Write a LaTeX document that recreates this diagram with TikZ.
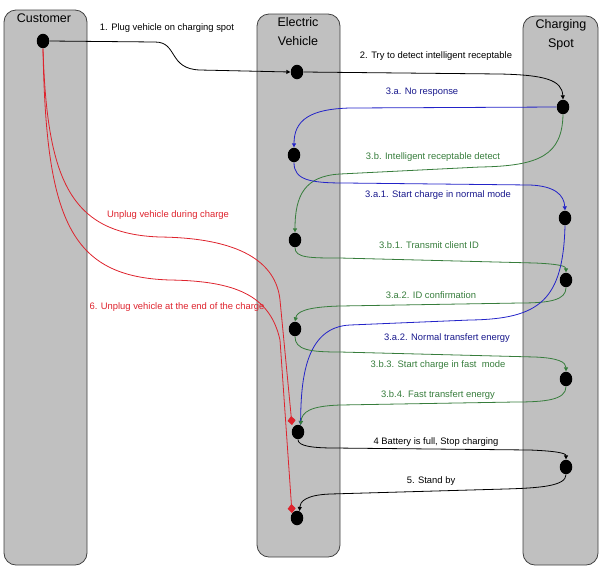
\documentclass[tikz,border=0pt]{standalone}
\usepackage{fontspec}
\setmainfont{Liberation Sans}
\usepackage{xcolor}
\usetikzlibrary{shapes.geometric,arrows.meta}

\definecolor{lanegray}{RGB}{192,192,192}
\definecolor{lineblue}{RGB}{35,35,200}
\definecolor{linegreen}{RGB}{55,125,60}
\definecolor{linered}{RGB}{222,35,45}

\begin{document}
\begin{tikzpicture}[x=1pt,y=-1pt,line width=0.8pt,
    lane/.style={draw=black!75,fill=lanegray,rounded corners=12pt},
    plugdot/.style={ellipse,fill=black,minimum width=12.5pt,minimum height=14.5pt,inner sep=0pt}]
\tikzset{lanetitle/.style={align=center,anchor=base,inner sep=0pt,font=\fontsize{12.5}{19}\selectfont},
         msg/.style={anchor=base,inner sep=0pt,font=\fontsize{9.4}{11}\selectfont},
         msgline/.style={-{Triangle[length=4pt,width=4pt]}},
         unplug/.style={draw=linered,-{Diamond[length=9pt,width=8pt]}}}
    \useasboundingbox (0,0) rectangle (601,566);
    \draw[lane] (4,10) rectangle (87,565);
    \draw[lane] (257,14) rectangle (340,557);
    \draw[lane] (523,16) rectangle (598,565);
    \node[lanetitle] (customer) at (44,22) {Customer};
    \node[lanetitle] (vehicle) at (298,45) {Electric\\Vehicle};
    \node[lanetitle] (spot) at (561,47) {Charging\\Spot};

    \node[plugdot] (C1) at (43,41) {};
    \node[plugdot] (E1) at (297,72) {};
    \node[plugdot] (S1) at (563,107) {};
    \node[plugdot] (E2) at (294,155) {};
    \node[plugdot] (S2) at (565,218) {};
    \node[plugdot] (E3) at (295,240) {};
    \node[plugdot] (S3) at (566,280) {};
    \node[plugdot] (E4) at (295,329) {};
    \node[plugdot] (S4) at (566,379) {};
    \node[plugdot] (E5) at (298,432) {};
    \node[plugdot] (S5) at (566,467) {};
    \node[plugdot] (E6) at (297,518) {};
    \coordinate (unplugA) at (292,425);
    \coordinate (unplugB) at (292,513);

    \draw[msgline] (C1.east) -- (155,42) .. controls (178,42) and (168,69) .. (200,70) -- (E1.west);
    \draw[msgline] (E1.east) -- (500,74) .. controls (545,75) and (562,80) .. (S1.north);
    \draw[msgline,lineblue] (S1.west) -- (350,108) .. controls (310,109) and (294,120) .. (E2.north);
    \draw[msgline,linegreen] (S1.south) .. controls (562,155) and (540,166) .. (480,167) -- (340,174) .. controls (305,176) and (295,195) .. (E3.north);
    \draw[msgline,lineblue] (E2.south) .. controls (294,180) and (310,183) .. (345,183) -- (530,185) .. controls (555,186) and (564,195) .. (S2.north);
    \draw[msgline,linegreen] (E3.south) .. controls (295,258) and (310,258) .. (340,258) -- (535,263) .. controls (558,264) and (566,266) .. (S3.north);
    \draw[msgline,linegreen] (S3.south) .. controls (566,300) and (550,303) .. (520,303) -- (340,306) .. controls (305,307) and (297,312) .. (E4.north);
    \draw[msgline,lineblue] (S2.south) .. controls (563,300) and (540,319) .. (470,320) -- (350,325) .. controls (305,327) and (301,380) .. (E5.70);
    \draw[msgline,linegreen] (E4.south) .. controls (295,350) and (310,352) .. (340,352) -- (535,357) .. controls (558,358) and (566,362) .. (S4.north);
    \draw[msgline,linegreen] (S4.south) .. controls (566,400) and (545,402) .. (515,402) -- (340,405) .. controls (310,406) and (302,412) .. (E5.70);
    \draw[msgline] (E5.south) .. controls (298,446) and (312,448) .. (335,448) -- (530,450) .. controls (555,451) and (566,453) .. (S5.north);
    \draw[msgline] (S5.south) .. controls (566,486) and (540,488) .. (505,489) -- (330,494) .. controls (305,495) and (300,502) .. (E6.70);
    \draw[unplug] (C1.south) .. controls (47,180) and (70,234) .. (160,237) .. controls (240,238) and (276,262) .. (280,300) -- (unplugA);
    \draw[unplug] (C1.south) .. controls (46,220) and (70,277) .. (170,280) .. controls (235,281) and (270,295) .. (280,340) -- (unplugB);

    \node[msg] (m1) at (167,30) {1. Plug vehicle on charging spot};
    \node[msg] (m2) at (436,58) {2. Try to detect intelligent receptable};
    \node[msg,lineblue!70!black] (m3a) at (422,94) {3.a. No response};
    \node[msg,linegreen] (m3b) at (433,159) {3.b. Intelligent receptable detect};
    \node[msg,lineblue!70!black] (m3a1) at (438,197) {3.a.1. Start charge in normal mode};
    \node[msg,linegreen] (m3b1) at (429,248) {3.b.1. Transmit client ID};
    \node[msg,linegreen] (m3a2) at (431,298) {3.a.2. ID confirmation};
    \node[msg,lineblue!70!black] (m3a3) at (447,340) {3.a.2. Normal transfert energy};
    \node[msg,linegreen] (m3b3) at (438,367) {3.b.3. Start charge in fast~ mode};
    \node[msg,linegreen] (m3b4) at (438,397) {3.b.4. Fast transfert energy};
    \node[msg] (m4) at (436,444) {4 Battery is full, Stop charging};
    \node[msg] (m5) at (431,483) {5. Stand by};
    \node[msg,linered] (m6a) at (168,217) {Unplug vehicle during charge};
    \node[msg,linered] (m6) at (177,309) {6. Unplug vehicle at the end of the charge};
\end{tikzpicture}
\end{document}
